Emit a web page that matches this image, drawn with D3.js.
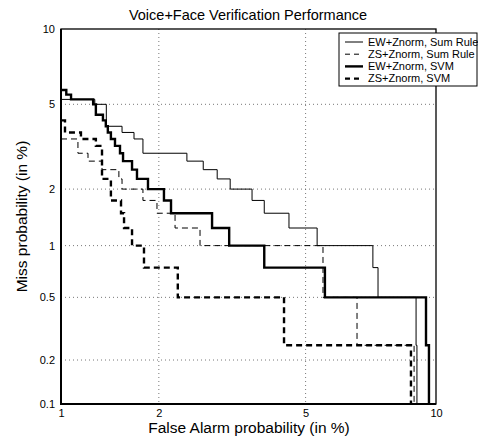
<!DOCTYPE html>
<html>
<head>
<meta charset="utf-8">
<script src="https://cdn.jsdelivr.net/npm/d3@7"></script>
<style>
  body { margin: 0; background: #fff; }
  text { font-family: "Liberation Sans", Arial, sans-serif; }
</style>
</head>
<body>
<svg width="478" height="438"></svg>
<script>
// tick values, in %
var xTicks = [1, 2, 5, 10];
var yTicks = [0.1, 0.2, 0.5, 1, 2, 5, 10];

var seriesNames = ["EW+Znorm, Sum Rule", "ZS+Znorm, Sum Rule", "EW+Znorm, SVM", "ZS+Znorm, SVM"];

// staircase corners: false alarm % and miss % (each point starts a horizontal run)
var ewSumFa   = [1.0, 1.28, 1.39, 1.553, 1.688, 1.795, 2.41, 2.68, 2.93, 3.18, 3.64, 3.92, 4.54, 5.34, 7.25, 7.45, 9.06, 9.10];
var ewSumMiss = [5.25, 5.0, 4.0, 3.75, 3.5, 3.0, 2.75, 2.5, 2.25, 2.0, 1.75, 1.5, 1.25, 1.0, 0.75, 0.5, 0.25, 0.05];

var zsSumFa   = [1.0, 1.133, 1.219, 1.348, 1.519, 1.553, 1.795, 1.975, 2.229, 2.625, 5.52, 6.66, 8.97];
var zsSumMiss = [3.5, 3.0, 2.75, 2.5, 2.25, 2.0, 1.75, 1.5, 1.25, 1.0, 0.5, 0.25, 0.05];

var ewSvmFa   = [1.0, 1.04, 1.077, 1.265, 1.29, 1.357, 1.385, 1.405, 1.436, 1.478, 1.531, 1.564, 1.665, 1.723, 1.858, 2.07, 2.17, 2.836, 3.16, 3.92, 5.58, 9.52, 9.66];
var ewSvmMiss = [5.75, 5.5, 5.25, 5.0, 4.5, 4.25, 4.0, 3.75, 3.5, 3.25, 3.0, 2.75, 2.5, 2.25, 2.0, 1.75, 1.5, 1.25, 1.0, 0.75, 0.5, 0.25, 0.05];

var zsSvmFa   = [1.0, 1.03, 1.158, 1.29, 1.348, 1.436, 1.542, 1.575, 1.665, 1.808, 2.27, 4.41, 8.83];
var zsSvmMiss = [4.25, 3.75, 3.5, 3.25, 2.25, 1.75, 1.5, 1.25, 1.0, 0.75, 0.5, 0.25, 0.05];

// inverse normal cdf (Acklam)
function probit(p) {
    var a = [-39.69683028665376, 220.9460984245205, -275.9285104469687, 138.3577518672690, -30.66479806614716, 2.506628277459239],
        b = [-54.47609879822406, 161.5858368580409, -155.6989798598866, 66.80131188771972, -13.28068155288572],
        c = [-0.007784894002430293, -0.3223964580411365, -2.400758277161838, -2.549732539343734, 4.374664141464968, 2.938163982698783],
        d = [0.007784695709041462, 0.3224671290700398, 2.445134137142996, 3.754408661907416];
    var q, r;
    if (p < 0.02425) {
        q = Math.sqrt(-2 * Math.log(p));
        return (((((c[0]*q+c[1])*q+c[2])*q+c[3])*q+c[4])*q+c[5]) / ((((d[0]*q+d[1])*q+d[2])*q+d[3])*q+1);
    } else if (p <= 1 - 0.02425) {
        q = p - 0.5; r = q * q;
        return (((((a[0]*r+a[1])*r+a[2])*r+a[3])*r+a[4])*r+a[5])*q / (((((b[0]*r+b[1])*r+b[2])*r+b[3])*r+b[4])*r+1);
    }
    q = Math.sqrt(-2 * Math.log(1 - p));
    return -(((((c[0]*q+c[1])*q+c[2])*q+c[3])*q+c[4])*q+c[5]) / ((((d[0]*q+d[1])*q+d[2])*q+d[3])*q+1);
}
function pr(v) { return probit(v / 100); }

var plotL = 61, plotR = 436, plotT = 29, plotB = 404;

var svg = d3.select("svg");

var x = d3.scaleLinear().domain([pr(1), pr(10)]).range([plotL, plotR]);
var y = d3.scaleLinear().domain([pr(0.1), pr(10)]).range([plotB, plotT]);

// grid
svg.append("g").selectAll("line")
    .data(xTicks.slice(1, -1))
    .enter().append("line")
    .attr("x1", function(d) { return x(pr(d)); })
    .attr("x2", function(d) { return x(pr(d)); })
    .attr("y1", plotT).attr("y2", plotB)
    .attr("stroke", "#555").attr("stroke-width", 0.8).attr("stroke-dasharray", "1,3");
svg.append("g").selectAll("line")
    .data(yTicks.slice(1, -1))
    .enter().append("line")
    .attr("y1", function(d) { return y(pr(d)); })
    .attr("y2", function(d) { return y(pr(d)); })
    .attr("x1", plotL).attr("x2", plotR)
    .attr("stroke", "#555").attr("stroke-width", 0.8).attr("stroke-dasharray", "1,3");

// axes
svg.append("g")
    .attr("transform", "translate(0," + plotB + ")")
    .call(d3.axisBottom(x)
        .tickValues(xTicks.map(pr))
        .tickSize(0).tickPadding(5)
        .tickFormat(function(d, i) { return xTicks[i]; }));
svg.append("g")
    .attr("transform", "translate(" + plotL + ",0)")
    .call(d3.axisLeft(y)
        .tickValues(yTicks.map(pr))
        .tickSize(0).tickPadding(6)
        .tickFormat(function(d, i) { return yTicks[i]; }));
svg.selectAll(".domain").remove();
svg.selectAll(".tick text")
    .attr("font-size", 11)
    .attr("font-family", "Liberation Sans, Arial, sans-serif")
    .attr("fill", "#000");

svg.append("clipPath").attr("id", "plot")
    .append("rect").attr("x", plotL).attr("y", plotT)
    .attr("width", plotR - plotL).attr("height", plotB - plotT);

var series = [
    { fa: ewSumFa, miss: ewSumMiss, w: 1, dash: null },
    { fa: zsSumFa, miss: zsSumMiss, w: 1, dash: "6,4" },
    { fa: ewSvmFa, miss: ewSvmMiss, w: 2.4, dash: null },
    { fa: zsSvmFa, miss: zsSvmMiss, w: 2.4, dash: "6,4" }
];

var line = d3.line()
    .x(function(d) { return x(pr(d[0])); })
    .y(function(d) { return y(pr(d[1])); })
    .curve(d3.curveStepAfter);

svg.append("g").attr("clip-path", "url(#plot)")
    .selectAll("path")
    .data(series)
    .enter().append("path")
    .attr("fill", "none")
    .attr("stroke", "#000")
    .attr("stroke-width", function(d) { return d.w; })
    .attr("stroke-dasharray", function(d) { return d.dash; })
    .attr("d", function(d) { return line(d3.zip(d.fa, d.miss)); });

// box
svg.append("rect")
    .attr("x", plotL).attr("y", plotT)
    .attr("width", plotR - plotL).attr("height", plotB - plotT)
    .attr("fill", "none").attr("stroke", "#000").attr("stroke-width", 1.3);
svg.append("path")
    .attr("d", "M" + plotL + "," + plotT + "V" + plotB + "H" + plotR)
    .attr("fill", "none").attr("stroke", "#000").attr("stroke-width", 2);

// legend
var lg = svg.append("g").attr("transform", "translate(339,33)");
lg.append("rect").attr("width", 138).attr("height", 53)
    .attr("fill", "#fff").attr("stroke", "#000").attr("stroke-width", 1);
var row = lg.selectAll(".row").data(series).enter().append("g")
    .attr("transform", function(d, i) { return "translate(0," + (9 + i * 12.2) + ")"; });
row.append("line")
    .attr("x1", 6).attr("x2", 24)
    .attr("stroke", "#000")
    .attr("stroke-width", function(d) { return d.w; })
    .attr("stroke-dasharray", function(d) { return d.dash ? "5,4" : null; });
row.append("text")
    .attr("x", 29).attr("dy", "0.35em")
    .attr("font-size", 11)
    .text(function(d, i) { return seriesNames[i]; });

// titles
svg.append("text")
    .attr("x", 248).attr("y", 20)
    .attr("text-anchor", "middle").attr("font-size", 14.5)
    .text("Voice+Face Verification Performance");
svg.append("text")
    .attr("x", 249).attr("y", 433)
    .attr("text-anchor", "middle").attr("font-size", 15.5)
    .text("False Alarm probability (in %)");
svg.append("text")
    .attr("transform", "translate(27," + ((plotT + plotB) / 2) + ") rotate(-90)")
    .attr("text-anchor", "middle").attr("font-size", 15.5)
    .text("Miss probability (in %)");
</script>
</body>
</html>
